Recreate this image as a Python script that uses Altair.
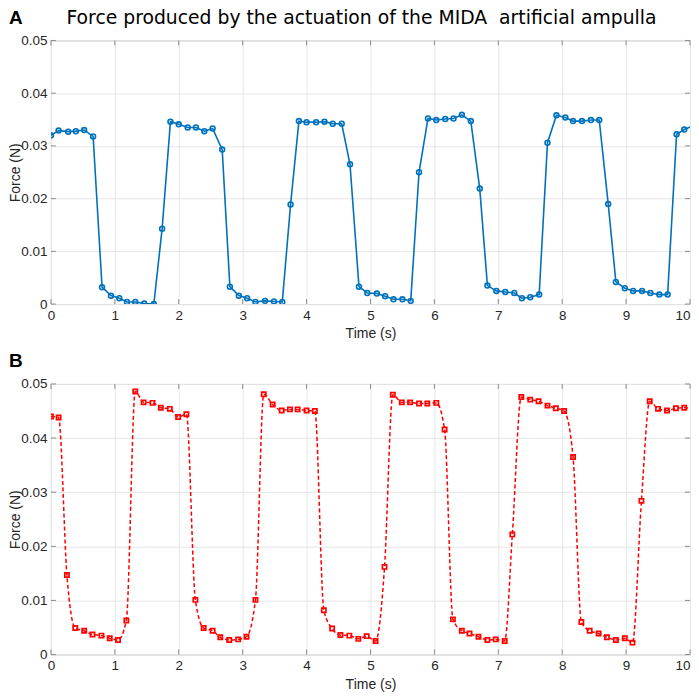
import altair as alt
import pandas as pd

# ---- data ----
tA = [0.00,0.12,0.27,0.39,0.52,0.66,0.80,0.94,1.07,1.19,1.32,1.46,1.61,1.74,1.87,2.00,2.14,2.27,2.40,2.53,
      2.68,2.80,2.94,3.07,3.20,3.35,3.49,3.62,3.75,3.88,4.00,4.15,4.28,4.41,4.55,4.68,4.82,4.95,5.10,5.23,
      5.36,5.50,5.63,5.76,5.90,6.03,6.17,6.30,6.43,6.57,6.71,6.83,6.97,7.11,7.25,7.37,7.50,7.64,7.77,7.91,
      8.05,8.17,8.31,8.45,8.58,8.72,8.84,8.98,9.11,9.25,9.38,9.52,9.65,9.79,9.91,10.05]
fA = [0.0320,0.0329,0.0327,0.0328,0.0330,0.0318,0.0032,0.0016,0.0011,0.0004,0.0004,0.0001,0.0000,0.0143,0.0346,0.0341,0.0335,0.0335,0.0328,0.0333,
      0.0293,0.0033,0.0016,0.0011,0.0004,0.0006,0.0005,0.0004,0.0189,0.0347,0.0345,0.0345,0.0346,0.0342,0.0342,0.0265,0.0033,0.0021,0.0020,0.0015,
      0.0009,0.0009,0.0006,0.0250,0.0352,0.0349,0.0351,0.0352,0.0359,0.0347,0.0219,0.0035,0.0025,0.0023,0.0021,0.0011,0.0013,0.0018,0.0306,0.0358,
      0.0354,0.0347,0.0347,0.0349,0.0349,0.0190,0.0042,0.0030,0.0025,0.0025,0.0021,0.0018,0.0018,0.0322,0.0331,0.0338]

tB = [0.00,0.12,0.25,0.38,0.52,0.65,0.79,0.92,1.05,1.18,1.32,1.45,1.59,1.72,1.86,1.99,2.12,2.26,2.39,2.53,
      2.65,2.79,2.93,3.06,3.20,3.33,3.47,3.61,3.74,3.86,4.00,4.13,4.27,4.40,4.53,4.67,4.81,4.94,5.08,5.22,
      5.35,5.49,5.62,5.76,5.89,6.03,6.16,6.29,6.43,6.55,6.69,6.83,6.96,7.10,7.22,7.36,7.50,7.63,7.77,7.90,
      8.03,8.17,8.30,8.43,8.57,8.70,8.84,8.98,9.10,9.24,9.37,9.50,9.64,9.78,9.91,10.05]
fB = [0.0440,0.0438,0.0147,0.0049,0.0044,0.0037,0.0035,0.0030,0.0027,0.0063,0.0486,0.0466,0.0465,0.0456,0.0454,0.0439,0.0444,0.0101,0.0049,0.0044,
      0.0032,0.0027,0.0028,0.0033,0.0101,0.0481,0.0462,0.0451,0.0453,0.0453,0.0451,0.0450,0.0082,0.0048,0.0036,0.0035,0.0029,0.0034,0.0025,0.0162,
      0.0480,0.0466,0.0466,0.0464,0.0464,0.0465,0.0416,0.0065,0.0044,0.0039,0.0033,0.0027,0.0028,0.0025,0.0222,0.0476,0.0471,0.0468,0.0460,0.0455,
      0.0450,0.0365,0.0060,0.0044,0.0039,0.0032,0.0027,0.0030,0.0022,0.0284,0.0468,0.0454,0.0451,0.0455,0.0456,0.0455]

x_ticks = [0, 1, 2, 3, 4, 5, 6, 7, 8, 9, 10]
y_ticks = [0, 0.01, 0.02, 0.03, 0.04, 0.05]
title_text = "Force produced by the actuation of the MIDA\u00a0 artificial ampulla"

W = 640
HA = 264
HB = 271
FONT = "Liberation Sans"
TXT = "#262626"
TICK = "#8c8c8c"


def panel(t, f, H, color, letter, line_kwargs, point_kwargs, with_title, top_off):
    df = pd.DataFrame({"t": t, "f": f})
    xs = alt.Scale(domain=[0, 10], nice=False)
    ys = alt.Scale(domain=[0, 0.05], nice=False)
    xe = alt.X("t:Q", scale=xs, title="Time (s)",
               axis=alt.Axis(values=x_ticks, format="d",
                             labelAlign={"condition": {"test": "datum.value == 10", "value": "right"},
                                         "value": "center"}))
    ye = alt.Y("f:Q", scale=ys, title="Force (N)",
               axis=alt.Axis(values=y_ticks, format=".2~f", titleX=-28, titleY=H / 2))
    base = alt.Chart(df)
    line = base.mark_line(color=color, clip=True, **line_kwargs).encode(x=xe, y=ye)
    pts = base.mark_point(color=color, clip=True, **point_kwargs).encode(x=xe, y=ye)

    xt = alt.Chart(pd.DataFrame({"t": x_ticks}))
    yt = alt.Chart(pd.DataFrame({"f": y_ticks}))
    tb = xt.mark_rule(color=TICK, strokeWidth=1).encode(x="t:Q", y=alt.value(H), y2=alt.value(H - 5))
    tt = xt.mark_rule(color=TICK, strokeWidth=1).encode(x="t:Q", y=alt.value(0), y2=alt.value(5))
    tl = yt.mark_rule(color=TICK, strokeWidth=1).encode(y="f:Q", x=alt.value(0), x2=alt.value(5))
    tr = yt.mark_rule(color=TICK, strokeWidth=1).encode(y="f:Q", x=alt.value(W - 5), x2=alt.value(W))

    lab = alt.Chart(pd.DataFrame({"s": [letter]})).mark_text(
        font=FONT, fontSize=19, fontWeight="bold", color="black", align="left", baseline="top"
    ).encode(text="s:N", x=alt.value(-42), y=alt.value(top_off))

    layers = [tb, tt, tl, tr, line, pts, lab]
    if with_title:
        ttl = alt.Chart(pd.DataFrame({"s": [title_text]})).mark_text(
            font="DejaVu Sans", fontSize=18.8, color="black", align="center", baseline="top"
        ).encode(text="s:N", x=alt.value(311), y=alt.value(top_off))
        layers.append(ttl)
    return alt.layer(*layers).properties(width=W, height=H)


pA = panel(tA, fA, HA, "#0072BD", "A",
           dict(strokeWidth=1.6),
           dict(shape="circle", filled=False, size=24, strokeWidth=1.6, opacity=1),
           True, -31)
pB = panel(tB, fB, HB, "#FF0000", "B",
           dict(strokeWidth=1.5, strokeDash=[4, 2.5], interpolate="monotone"),
           dict(shape="square", filled=False, size=18, strokeWidth=1.7, opacity=1),
           False, -32)

chart = alt.vconcat(pA, pB, spacing=10).properties(
    padding=0, background="white"
).configure_view(
    stroke="#bdbdbd", strokeWidth=1
).configure_axis(
    labelFont=FONT, labelFontSize=13.5, labelColor=TXT,
    titleFont=FONT, titleFontSize=14, titleFontWeight="normal", titleColor=TXT,
    grid=True, gridColor="#e6e6e6", gridWidth=1,
    domain=False, ticks=False, labelPadding=4, titlePadding=5,
)

chart.save("out.html", embed_options={"renderer": "svg", "actions": False})
